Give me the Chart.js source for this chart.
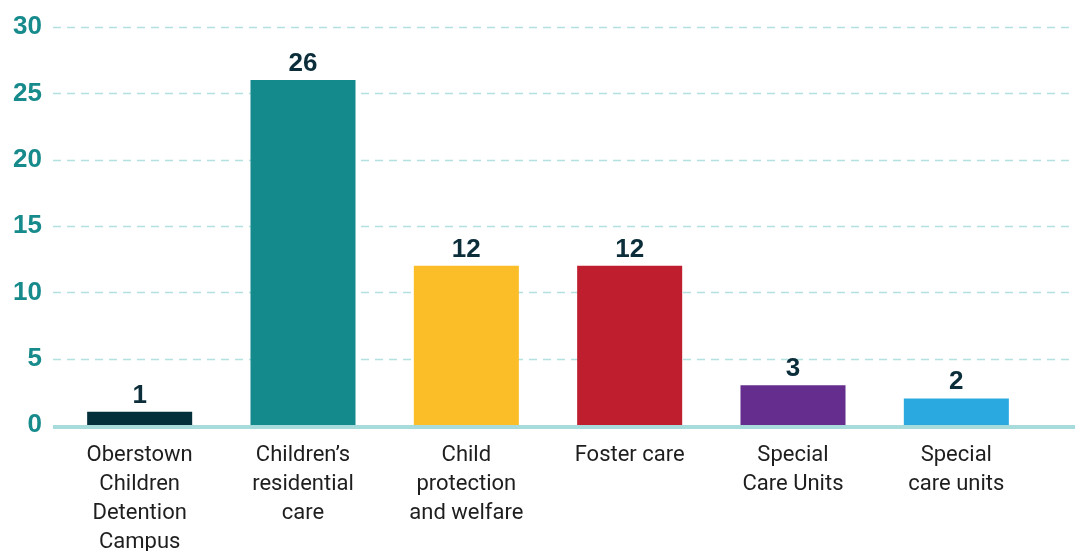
<!DOCTYPE html>
<html>
<head>
<meta charset="utf-8">
<script src="https://cdn.jsdelivr.net/npm/chart.js@4"></script>
<style>
  html, body { margin: 0; padding: 0; background: #ffffff; }
  #wrap { width: 1075px; height: 551px; position: relative; }
</style>
</head>
<body>
<div id="wrap"><canvas id="chart"></canvas></div>
<script>
    // Categories, counts and bar colours
    const categories = [
        ['Oberstown', 'Children', 'Detention', 'Campus'],
        ['Children\u2019s', 'residential', 'care'],
        ['Child', 'protection', 'and welfare'],
        ['Foster care'],
        ['Special', 'Care Units'],
        ['Special', 'care units']
    ];
    const counts = [1, 26, 12, 12, 3, 2];
    const barColors = ['#04303c', '#158a8c', '#fbbd28', '#be1e2d', '#652d8e', '#29a9e0'];
    const yTicks = [0, 5, 10, 15, 20, 25, 30];

    // Dashed gridlines and the thick base line run the full width
    const gridPlugin = {
        id: 'fullGrid',
        beforeDatasetsDraw(chart) {
            const ctx = chart.ctx;
            const y = chart.scales.y;
            ctx.save();
            ctx.strokeStyle = '#b3e0e0';
            ctx.lineWidth = 1.5;
            ctx.setLineDash([8, 6]);
            yTicks.forEach(v => {
                if (v === 0) return;
                const py = Math.round(y.getPixelForValue(v)) + 0.5;
                ctx.beginPath();
                ctx.moveTo(53, py);
                ctx.lineTo(chart.width, py);
                ctx.stroke();
            });
            ctx.restore();
        },
        afterDatasetsDraw(chart) {
            const ctx = chart.ctx;
            const y0 = chart.scales.y.getPixelForValue(0);
            ctx.save();
            ctx.fillStyle = '#a8dcdc';
            ctx.fillRect(53, y0, chart.width - 53, 4);

            // value labels above each bar
            const meta = chart.getDatasetMeta(0);
            ctx.fillStyle = '#0b2e3a';
            ctx.font = 'bold 26px "Liberation Sans", Arial, sans-serif';
            ctx.textAlign = 'center';
            ctx.textBaseline = 'alphabetic';
            meta.data.forEach((bar, i) => {
                ctx.fillText(String(counts[i]), bar.x, bar.y - 9);
            });
            ctx.restore();
        }
    };

    new Chart(document.getElementById('chart'), {
        type: 'bar',
        data: {
            labels: categories,
            datasets: [{
                data: counts,
                backgroundColor: barColors,
                borderWidth: 0,
                barPercentage: 0.643,
                categoryPercentage: 1
            }]
        },
        options: {
            responsive: true,
            maintainAspectRatio: false,
            animation: false,
            layout: { padding: { top: 27, right: 37, left: 0, bottom: 0 } },
            plugins: { legend: { display: false }, tooltip: { enabled: false } },
            scales: {
                x: {
                    grid: { display: false, drawTicks: false },
                    border: { display: false },
                    ticks: {
                        color: '#1e1e1e',
                        font: { family: 'Roboto, "Liberation Sans", sans-serif', size: 22, lineHeight: 1.318 },
                        padding: 16,
                        maxRotation: 0,
                        autoSkip: false
                    },
                    afterFit(scale) { scale.height = 126; }
                },
                y: {
                    min: 0,
                    max: 30,
                    grid: { display: false, drawTicks: false },
                    border: { display: false },
                    ticks: {
                        stepSize: 5,
                        color: '#178a8c',
                        font: { family: '"Liberation Sans", Arial, sans-serif', size: 26, weight: 'bold', lineHeight: 0.8 },
                        padding: 16
                    },
                    afterFit(scale) { scale.width = 58; }
                }
            }
        },
        plugins: [gridPlugin]
    });
</script>
</body>
</html>
